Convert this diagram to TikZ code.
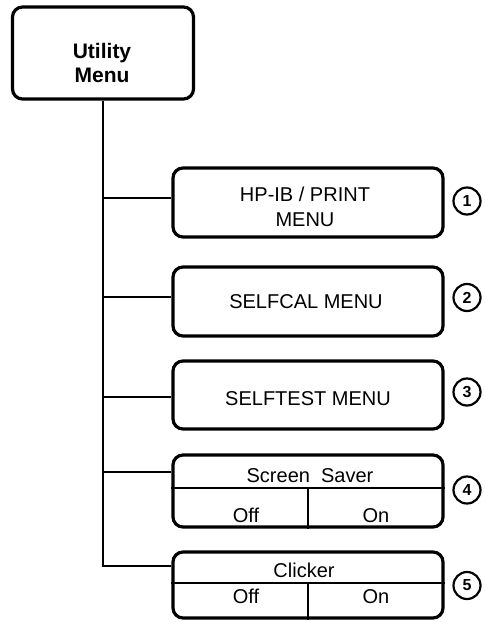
\documentclass[tikz,border=0pt]{standalone}
\usepackage{fontspec}
\setmainfont{Liberation Sans}
\begin{document}
\begin{tikzpicture}[x=1pt,y=-1pt,
  menubox/.style={draw, line width=3.2pt, rounded corners=10pt, inner sep=0pt},
  conn/.style={line width=2pt},
  divider/.style={line width=1.8pt},
  lbl/.style={font=\fontsize{20}{25}\selectfont, inner sep=0pt, align=center},
  numc/.style={draw, circle, line width=2.2pt, minimum size=27pt, inner sep=0pt,
               font=\bfseries\fontsize{16}{16}\selectfont}]
\useasboundingbox (0,0) rectangle (485,622);

% boxes
\node[menubox, minimum width=181pt, minimum height=92pt] (util) at (103,53) {};
\node[menubox, minimum width=270pt, minimum height=69pt] (hp) at (308,202.5) {};
\node[menubox, minimum width=270pt, minimum height=69pt] (cal) at (308,301.5) {};
\node[menubox, minimum width=270pt, minimum height=68pt] (tst) at (308,395) {};
\node[menubox, minimum width=270pt, minimum height=72pt] (ss) at (308,491) {};
\node[menubox, minimum width=270pt, minimum height=66pt] (clk) at (308,585) {};

% labels
\node[lbl, anchor=north, font=\bfseries\fontsize{21}{24}\selectfont] (utilT) at (102,43) {Utility\\Menu};
\node[lbl, anchor=north] (hpT) at (305,187) {HP-IB / PRINT\\MENU};
\node[lbl, anchor=base] (calT) at (306,308) {SELFCAL MENU};
\node[lbl, anchor=base] (tstT) at (308,405) {SELFTEST MENU};
\node[lbl, anchor=base] (ssT) at (310,482) {Screen\ \ Saver};
\node[lbl, anchor=base] (ssOff) at (246,522) {Off};
\node[lbl, anchor=base] (ssOn) at (376,522) {On};
\node[lbl, anchor=base] (clkT) at (304,577) {Clicker};
\node[lbl, anchor=base] (clkOff) at (246,603) {Off};
\node[lbl, anchor=base] (clkOn) at (376,603) {On};

% dividers
\draw[divider] (ss.west |- 0,488) -- (ss.east |- 0,488);
\draw[divider] (ss.south |- 0,488) -- (ss.south);
\draw[divider] (clk.west |- 0,583) -- (clk.east |- 0,583);
\draw[divider] (clk.south |- 0,583) -- (clk.south);

% junctions on the trunk
\coordinate (j1) at (103,198);
\coordinate (j2) at (103,297);
\coordinate (j3) at (103,397);
\coordinate (j4) at (103,472);
\coordinate (j5) at (103,566);

% connectors
\draw[conn] (util.south) -- (j5) -- (clk.west |- j5);
\draw[conn] (j1) -- (hp.west |- j1);
\draw[conn] (j2) -- (cal.west |- j2);
\draw[conn] (j3) -- (tst.west |- j3);
\draw[conn] (j4) -- (ss.west |- j4);

% numbers
\node[numc] (n1) at (467,201) {1};
\node[numc] (n2) at (467,297.5) {2};
\node[numc] (n3) at (467,392) {3};
\node[numc] (n4) at (467,490) {4};
\node[numc] (n5) at (467,585.5) {5};
\end{tikzpicture}
\end{document}
